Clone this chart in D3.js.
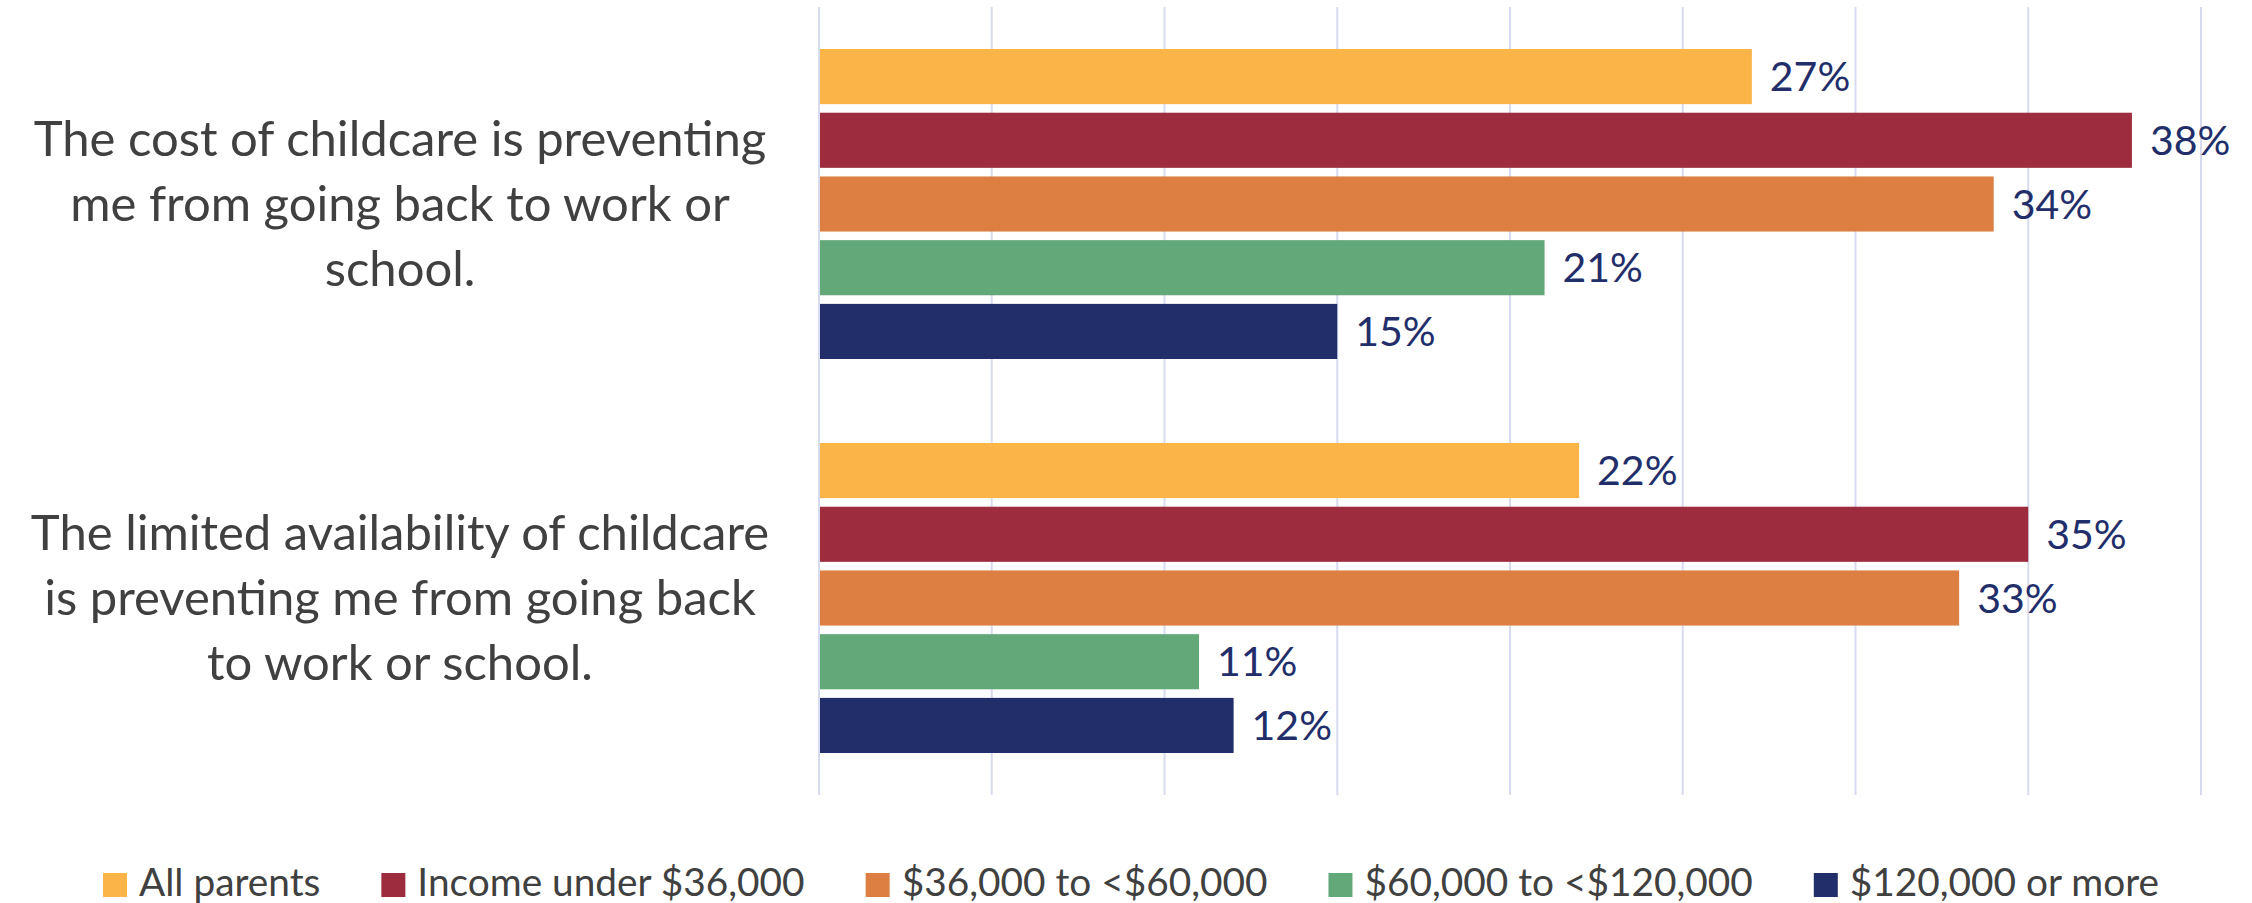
<!DOCTYPE html>
<meta charset="utf-8">
<script src="https://d3js.org/d3.v7.min.js"></script>
<style>
  body { margin: 0; background: #fff; }
  text { font-family: Lato, "Open Sans", sans-serif; }
</style>
<div id="chart"></div>
<script>

  // questions (y categories), each split into display lines
  var questions = ["cost", "availability"];
  var questionLines = [
    ["The cost of childcare is preventing", "me from going back to work or", "school."],
    ["The limited availability of childcare", "is preventing me from going back", "to work or school."]
  ];

  // income groups = series
  var groups = ["All parents", "Income under $36,000", "$36,000 to <$60,000", "$60,000 to <$120,000", "$120,000 or more"];
  var groupColors = ["#FBB448", "#9C2C3E", "#DD7F43", "#63A878", "#222E6A"];

  // percent values per group, one entry per question
  var allParents = [27, 22];
  var under36 = [38, 35];
  var from36to60 = [34, 33];
  var from60to120 = [21, 11];
  var over120 = [15, 12];

  var xTicks = [0, 5, 10, 15, 20, 25, 30, 35, 40];

  var seriesValues = [allParents, under36, from36to60, from60to120, over120];

  // flatten into rows the library can bind
  var rows = [];
  questions.forEach(function(q, qi) {
    groups.forEach(function(g, gi) {
      rows.push({ question: q, group: g, value: seriesValues[gi][qi] });
    });
  });

  var W = 2252, H = 903;
  var margin = {top: 7, right: 51, bottom: 108, left: 819};
  var width = W - margin.left - margin.right,
      height = H - margin.top - margin.bottom;

  var svg = d3.select("#chart")
    .append("svg")
      .attr("width", W)
      .attr("height", H);

  var g = svg.append("g")
      .attr("transform", "translate(" + margin.left + "," + margin.top + ")");

  var x = d3.scaleLinear()
    .domain([0, 40])
    .range([0, width]);

  var y0 = d3.scaleBand()
    .domain(questions)
    .range([0, height]);

  var inner = (y0.bandwidth() - 310) / 2;
  var y1 = d3.scaleBand()
    .domain(groups)
    .range([inner, y0.bandwidth() - inner])
    .paddingInner(0.135);

  var color = d3.scaleOrdinal()
    .domain(groups)
    .range(groupColors);

  // vertical gridlines
  g.append("g")
    .selectAll("line")
    .data(xTicks)
    .enter().append("line")
      .attr("x1", function(d) { return x(d); })
      .attr("x2", function(d) { return x(d); })
      .attr("y1", 0)
      .attr("y2", height)
      .attr("stroke", "#D8DBF0")
      .attr("stroke-width", 2);

  // bars
  g.append("g")
    .selectAll("rect")
    .data(rows)
    .enter().append("rect")
      .attr("x", x(0) + 1)
      .attr("y", function(d) { return y0(d.question) + y1(d.group); })
      .attr("width", function(d) { return x(d.value) - x(0) - 1; })
      .attr("height", y1.bandwidth())
      .attr("fill", function(d) { return color(d.group); });

  // value labels
  g.append("g")
    .selectAll("text")
    .data(rows)
    .enter().append("text")
      .attr("x", function(d) { return x(d.value) + 18; })
      .attr("y", function(d) { return y0(d.question) + y1(d.group) + y1.bandwidth() / 2; })
      .attr("dy", "0.36em")
      .attr("fill", "#222E6A")
      .style("font-size", "41px")
      .text(function(d) { return d.value + "%"; });

  // category labels, centered text left of the bars
  var lineGap = 65;
  var cat = svg.append("g")
    .selectAll("text")
    .data(questions)
    .enter().append("text")
      .attr("text-anchor", "middle")
      .attr("fill", "#404040")
      .style("font-size", "49px");

  cat.each(function(q, qi) {
    var cy = margin.top + y0(q) + y0.bandwidth() / 2;
    var lines = questionLines[qi];
    d3.select(this).selectAll("tspan")
      .data(lines)
      .enter().append("tspan")
        .attr("x", 400)
        .attr("y", function(d, i) { return cy + (i - (lines.length - 1) / 2) * lineGap; })
        .attr("dy", "0.35em")
        .text(function(d) { return d; });
  });

  // legend
  var legend = svg.append("g");
  var items = legend.selectAll("g")
    .data(groups)
    .enter().append("g");

  items.append("rect")
    .attr("width", 24)
    .attr("height", 24)
    .attr("y", 873)
    .attr("fill", function(d) { return color(d); });

  items.append("text")
    .attr("x", 36)
    .attr("y", 896)
    .attr("fill", "#404040")
    .style("font-size", "38.8px")
    .text(function(d) { return d; });

  var pos = 0, offsets = [];
  items.each(function() {
    offsets.push(pos);
    pos += 36 + this.querySelector("text").getComputedTextLength() + 61;
  });
  var total = pos - 61;
  var start = 1131 - total / 2;
  items.attr("transform", function(d, i) { return "translate(" + (start + offsets[i]) + ",0)"; });

</script>
